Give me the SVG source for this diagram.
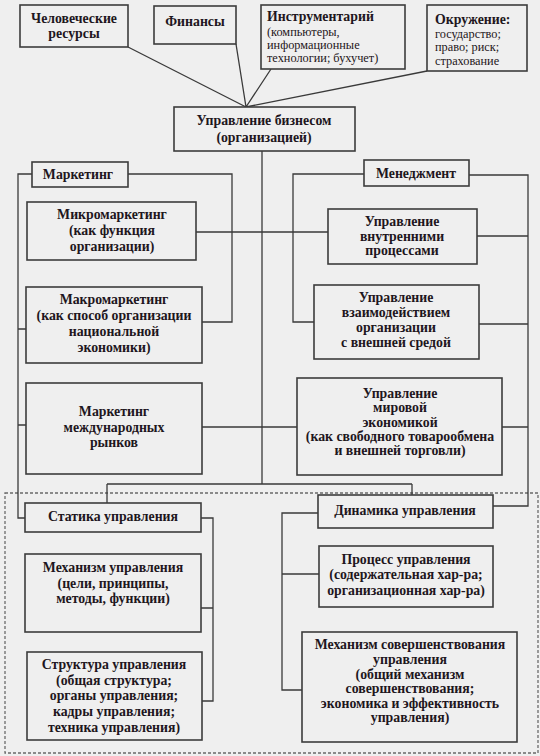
<svg xmlns="http://www.w3.org/2000/svg" width="540" height="756" viewBox="0 0 540 756">
<style>
.bg{fill:#efefef}
.box{fill:#efefef;stroke:#3c3c3c;stroke-width:1.6}
.ln{fill:none;stroke:#3a3a3a;stroke-width:1.3}
.dash{fill:none;stroke:#6a6a6a;stroke-width:1.3;stroke-dasharray:3 2}
text{font-family:"Liberation Serif","Times New Roman",serif;fill:#1e1620}
.b{font-size:13.8px;font-weight:bold;text-anchor:middle}
.bl{font-size:13.8px;font-weight:bold}
.s{font-size:12.3px}
</style>
<rect class="bg" x="0" y="0" width="540" height="756"/>
<rect class="dash" x="5" y="493" width="533" height="260"/>
<g id="connectors">
<path class="ln" d="M128,47 L246,107 M236,44 L246,107 M271,69 L246,107 M427,71 L246,107"/>
<path class="ln" d="M262,151 V484 M107,484 H412 M107,484 V503 M412,484 V495"/>
<path class="ln" d="M196,232 H328 M202,427 H297"/>
<path class="ln" d="M32,174 H18 V518 H25 M18,329 H26 M18,425 H26"/>
<path class="ln" d="M128,174 H232 V322 H202"/>
<path class="ln" d="M364,174 H293 V322 H314"/>
<path class="ln" d="M469,175 H528 V506 H493 M477,236 H528 M479,324 H528 M502,427 H528"/>
<path class="ln" d="M201,518 H213 V701 H202 M201,608 H213"/>
<path class="ln" d="M318,513 H282 V690 H302 M282,574 H319"/>
</g>
<g id="hr"><rect class="box" x="20" y="5" width="108" height="42"/><text class="b" x="74" y="23">Человеческие</text><text class="b" x="74" y="38">ресурсы</text></g>
<g id="fin"><rect class="box" x="154" y="6" width="82" height="38"/><text class="b" x="195" y="26">Финансы</text></g>
<g id="tools"><rect class="box" x="261" y="5" width="144" height="64"/><text class="bl" x="267" y="21">Инструментарий</text><text class="s" x="267" y="36">(компьютеры,</text><text class="s" x="267" y="49">информационные</text><text class="s" x="267" y="62">технологии; бухучет)</text></g>
<g id="env"><rect class="box" x="427" y="5" width="100" height="66"/><text class="bl" x="435" y="24">Окружение:</text><text class="s" x="435" y="38">государство;</text><text class="s" x="435" y="51">право; риск;</text><text class="s" x="435" y="65">страхование</text></g>
<g id="biz"><rect class="box" x="174" y="107" width="181" height="44"/><text class="b" x="264" y="125">Управление бизнесом</text><text class="b" x="264" y="142">(организацией)</text></g>
<g id="mkt"><rect class="box" x="32" y="162" width="96" height="25"/><text class="b" x="78" y="179">Маркетинг</text></g>
<g id="mgmt"><rect class="box" x="364" y="160" width="105" height="26"/><text class="b" x="416" y="178">Менеджмент</text></g>
<g id="micro"><rect class="box" x="27" y="202" width="169" height="58"/><text class="b" x="112" y="219">Микромаркетинг</text><text class="b" x="112" y="235">(как функция</text><text class="b" x="112" y="251">организации)</text></g>
<g id="macro"><rect class="box" x="26" y="287" width="176" height="76"/><text class="b" x="114" y="304">Макромаркетинг</text><text class="b" x="114" y="320">(как способ организации</text><text class="b" x="114" y="336">национальной</text><text class="b" x="114" y="352">экономики)</text></g>
<g id="intl"><rect class="box" x="26" y="383" width="176" height="91"/><text class="b" x="114" y="416">Маркетинг</text><text class="b" x="114" y="432">международных</text><text class="b" x="114" y="447">рынков</text></g>
<g id="internal"><rect class="box" x="328" y="209" width="149" height="55"/><text class="b" x="402" y="226">Управление</text><text class="b" x="402" y="241">внутренними</text><text class="b" x="402" y="255">процессами</text></g>
<g id="external"><rect class="box" x="314" y="285" width="165" height="74"/><text class="b" x="396" y="302">Управление</text><text class="b" x="396" y="317">взаимодействием</text><text class="b" x="396" y="332">организации</text><text class="b" x="396" y="347">с внешней средой</text></g>
<g id="world"><rect class="box" x="297" y="378" width="205" height="97"/><text class="b" x="400" y="398">Управление</text><text class="b" x="400" y="412">мировой</text><text class="b" x="400" y="427">экономикой</text><text class="b" x="400" y="441">(как свободного товарообмена</text><text class="b" x="400" y="455">и внешней торговли)</text></g>
<g id="statics"><rect class="box" x="25" y="503" width="176" height="29"/><text class="b" x="113" y="521">Статика управления</text></g>
<g id="dynamics"><rect class="box" x="318" y="495" width="175" height="33"/><text class="b" x="405" y="515">Динамика управления</text></g>
<g id="mech"><rect class="box" x="25" y="554" width="176" height="78"/><text class="b" x="113" y="572">Механизм управления</text><text class="b" x="113" y="588">(цели, принципы,</text><text class="b" x="113" y="603">методы, функции)</text></g>
<g id="struct"><rect class="box" x="27" y="652" width="175" height="88"/><text class="b" x="114" y="669">Структура управления</text><text class="b" x="114" y="685">(общая структура;</text><text class="b" x="114" y="700">органы управления;</text><text class="b" x="114" y="716">кадры управления;</text><text class="b" x="114" y="732">техника управления)</text></g>
<g id="process"><rect class="box" x="319" y="546" width="174" height="61"/><text class="b" x="406" y="564">Процесс управления</text><text class="b" x="406" y="579">(содержательная хар-ра;</text><text class="b" x="406" y="595">организационная хар-ра)</text></g>
<g id="improve"><rect class="box" x="302" y="632" width="215" height="110"/><text class="b" x="410" y="649">Механизм совершенствования</text><text class="b" x="410" y="664">управления</text><text class="b" x="410" y="679">(общий механизм</text><text class="b" x="410" y="693">совершенствования;</text><text class="b" x="410" y="708">экономика и эффективность</text><text class="b" x="410" y="722">управления)</text></g>
</svg>
